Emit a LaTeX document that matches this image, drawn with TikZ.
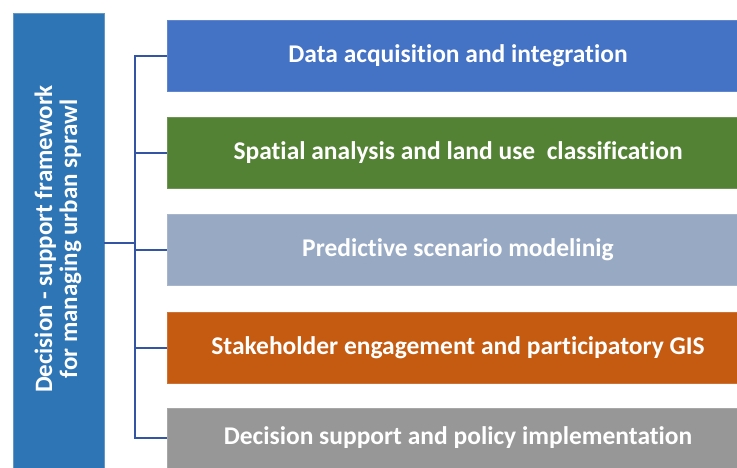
\documentclass[tikz,border=0pt]{standalone}
\usepackage{fontspec}
\setmainfont{Carlito}[Ligatures=NoCommon]
\begin{document}
\begin{tikzpicture}[x=1pt,y=-1pt,
  every node/.style={inner sep=0pt, outer sep=0pt},
  framebox/.style={rectangle, fill=frameblue, draw=frameblue!75!white, line width=0.8pt,
    minimum width=91pt, minimum height=460pt, anchor=north west},
  stagebox/.style={rectangle, fill=#1, draw=#1!85!white, line width=0.8pt,
    minimum width=582pt, minimum height=71pt, anchor=north west,
    text=white, font=\bfseries\fontsize{25.5}{25}\selectfont},
  link/.style={draw=linkblue, line width=2pt}
]
\definecolor{frameblue}{HTML}{2E75B6}
\definecolor{linkblue}{HTML}{3454A4}
\definecolor{cblue}{HTML}{4472C4}
\definecolor{cgreen}{HTML}{548235}
\definecolor{csteel}{HTML}{98A9C3}
\definecolor{corange}{HTML}{C55A11}
\definecolor{cgray}{HTML}{979797}

\useasboundingbox (0,0) rectangle (737,467);
\clip (0,0) rectangle (737,467);

% framework box on the left
\node[framebox] (frame) at (13,13) {};
\node[rotate=90, text=white, align=center,
      font=\bfseries\fontsize{25}{25}\selectfont] (frametext) at (58,239)
  {Decision - support framework\\for managing urban sprawl};

% the five components
\node[stagebox=cblue]   (b1) at (167,20)  {Data acquisition and integration};
\node[stagebox=cgreen]  (b2) at (167,117) {Spatial analysis and land use\ \ classification};
\node[stagebox=csteel]  (b3) at (167,214) {Predictive scenario modelinig};
\node[stagebox=corange] (b4) at (167,312) {Stakeholder engagement and participatory GIS};
\node[stagebox=cgray, minimum height=60pt] (b5) at (167,408) {Decision support and policy implementation};

% bracket connectors
\coordinate (j) at (135,243);
\draw[link] (frame.east) -- (j);
\draw[link] (b1.west) -- (j |- b1.west) -- (j |- b5.west) -- (b5.west);
\draw[link] (j |- b2.west) -- (b2.west);
\draw[link] (j |- b3.west) -- (b3.west);
\draw[link] (j |- b4.west) -- (b4.west);
\end{tikzpicture}
\end{document}
